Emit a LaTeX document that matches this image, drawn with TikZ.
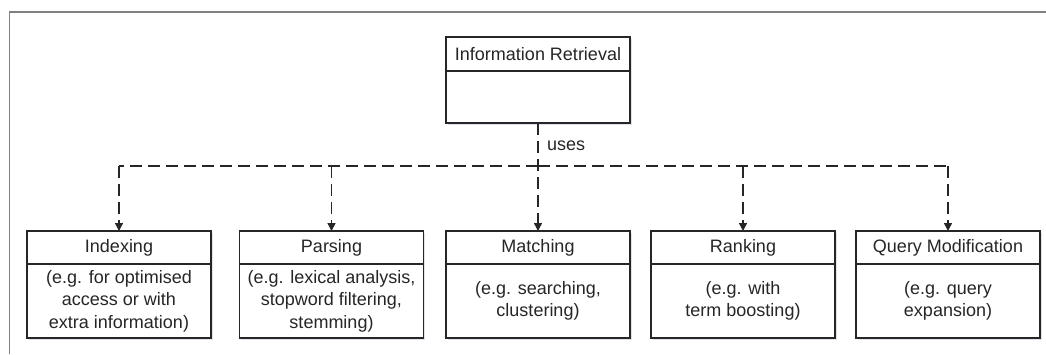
\documentclass[tikz,border=0pt]{standalone}
\usepackage{fontspec}
\setmainfont{Liberation Sans}
\usetikzlibrary{arrows.meta}
\begin{document}
\begin{tikzpicture}[x=1pt,y=-1pt,
  box/.style={draw=black!85, line width=1.4pt, fill=white, minimum width=184pt, inner sep=0pt, outer sep=0pt},
  shadowbox/.style={fill={rgb,255:red,222;green,228;blue,238}, draw=none, minimum width=184pt, inner sep=0pt, outer sep=0pt},
  divider/.style={draw=black!85, line width=1.4pt},
  lbl/.style={font=\fontsize{18}{22.5}\selectfont, align=center, text=black!85, inner sep=0pt},
  conn/.style={draw=black!85, line width=1.4pt, dash pattern=on 12pt off 6pt, -{Triangle[length=8pt,width=8pt]}},
  hline/.style={draw=black!85, line width=1.4pt, dash pattern=on 12pt off 6pt},
  frame/.style={draw=black!50, line width=1.5pt}]
\useasboundingbox (0,0) rectangle (1046,354);
\fill[white] (0,0) rectangle (1046,354);
% frame
\draw[frame] (9.5,354) -- (9.5,12) -- (1046,12);

% shadows
\foreach \cx/\cy/\h in {538/80/86, 119/284.5/107, 331.5/284.5/107, 538/284.5/107, 743/284.5/107, 948/284.5/107}{
  \node[shadowbox, minimum height=\h pt] at (\cx+1.5,\cy+2) {};
}

% top box
\node[box, minimum height=86pt] (ir) at (538,80) {};
\draw[divider] (ir.west |- 0,71) -- (ir.east |- 0,71);
\node[lbl] (irt) at (538,54) {Information Retrieval};

% bottom boxes
\node[box, minimum height=107pt] (idx) at (119,284.5) {};
\node[box, minimum height=107pt] (par) at (331.5,284.5) {};
\node[box, minimum height=107pt] (mat) at (538,284.5) {};
\node[box, minimum height=107pt] (rnk) at (743,284.5) {};
\node[box, minimum height=107pt] (qry) at (948,284.5) {};
\foreach \n in {idx,par,mat,rnk,qry}{
  \draw[divider] (\n.west |- 0,264) -- (\n.east |- 0,264);
}

\node[lbl] (idxt) at (119,247.5) {Indexing};
\node[lbl] (part) at (331.5,247.5) {Parsing};
\node[lbl] (matt) at (538,247.5) {Matching};
\node[lbl] (rnkt) at (743,247.5) {Ranking};
\node[lbl] (qryt) at (948,247.5) {Query Modification};

\node[lbl] (idxb) at (119,301) {(e.g. for optimised\\access or with\\extra information)};
\node[lbl] (parb) at (331.5,301) {(e.g. lexical analysis,\\stopword filtering,\\stemming)};
\node[lbl] (matb) at (538,301) {(e.g. searching,\\clustering)};
\node[lbl] (rnkb) at (743,301) {(e.g. with\\term boosting)};
\node[lbl] (qryb) at (948,301) {(e.g. query\\expansion)};

% connectors
\coordinate (hub) at (538,166);
\coordinate (hl) at (idx.north |- hub);
\coordinate (hr) at (qry.north |- hub);
\draw[hline] (hub) -- (hl);
\draw[hline] (hub) -- (hr);
\draw[conn] (ir.south) -- (mat.north);
\draw[conn] (hl) -- (idx.north);
\draw[conn] (par.north |- hub) -- (par.north);
\draw[conn] (rnk.north |- hub) -- (rnk.north);
\draw[conn] (hr) -- (qry.north);

\node[lbl, anchor=west] (uses) at (547,146) {uses};
\end{tikzpicture}
\end{document}
